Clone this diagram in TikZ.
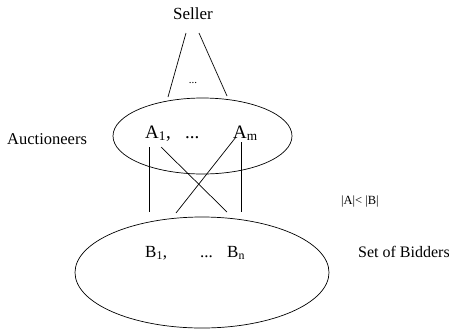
\documentclass[tikz,border=0pt]{standalone}
\usepackage{fontspec}
\setmainfont{Liberation Serif}
\usetikzlibrary{shapes.geometric}

\begin{document}
\begin{tikzpicture}[x=1pt, y=-1pt,
    set/.style={draw, ellipse, inner sep=0pt, line width=0.7pt},
    txt/.style={inner sep=0pt, anchor=base west},
    link/.style={line width=0.7pt},
    big/.style={font=\fontsize{19}{21}\selectfont},
    mid/.style={font=\fontsize{17}{19}\selectfont}
]
\useasboundingbox (0,0) rectangle (449,330);
% ============== Top: seller and auctioneers ==================
\node[mid, inner sep=0pt, anchor=base] (seller) at (193,19) {Seller};
\node[inner sep=0pt, anchor=base, font=\fontsize{11}{12}\selectfont] (sdots) at (193,83) {...};
\coordinate (sl1) at (186,33); \coordinate (sl2) at (168,97);
\coordinate (sr1) at (199,33); \coordinate (sr2) at (227,96);
\draw[link] (sl1) -- (sl2);
\draw[link] (sr1) -- (sr2);
\node[set, minimum width=179, minimum height=76] (auct) at (202.5,136) {};
\node[txt, font=\fontsize{16.5}{18}\selectfont] (auctlbl) at (7,144) {Auctioneers};
\node[txt, big] (a1) at (145,138) {A\textsubscript{1},};
\node[txt, big] (adots) at (185,138) {...};
\node[txt, big] (am) at (233,138) {A\textsubscript{m}};
% ============== Links between the two sets ==================
\coordinate (p1) at (149,147); \coordinate (q1) at (149,212);
\coordinate (p2) at (241,142); \coordinate (q2) at (241,212);
\coordinate (p3) at (161,147); \coordinate (q3) at (227,212);
\coordinate (p4) at (236,137); \coordinate (q4) at (176,213);
\draw[link] (p1) -- (q1);
\draw[link] (p2) -- (q2);
\draw[link] (p3) -- (q3);
\draw[link] (p4) -- (q4);
\node[txt, font=\fontsize{12.5}{14}\selectfont] (card) at (341,204) {|A|< |B|};
% ============== Bottom: bidders ==================
\node[set, minimum width=254, minimum height=111] (bidders) at (202,272.5) {};
\node[txt, mid] (b1) at (145,257) {B\textsubscript{1},};
\node[txt, mid] (bdots) at (200,257) {...};
\node[txt, mid] (bn) at (227,257) {B\textsubscript{n}};
\node[txt, font=\fontsize{16}{18}\selectfont] (bidlbl) at (358,257) {Set of Bidders};
\end{tikzpicture}
\end{document}
